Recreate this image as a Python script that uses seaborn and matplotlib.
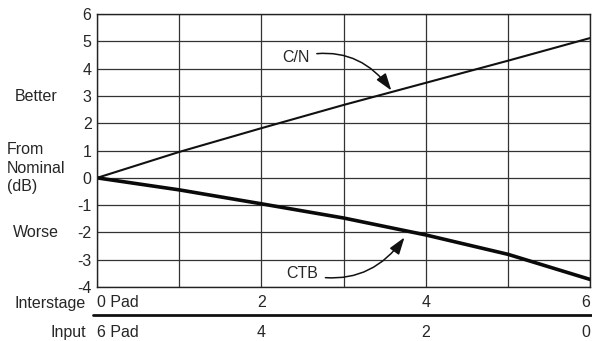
import numpy as np
import pandas as pd
import matplotlib
matplotlib.use('Agg')
import matplotlib.pyplot as plt
import seaborn as sns
from matplotlib.transforms import blended_transform_factory

# values
interstage_pad = [0, 1, 2, 3, 4, 5, 6]
cn_db = [0, 0.95, 1.82, 2.67, 3.48, 4.29, 5.12]
ctb_db = [0, -0.44, -0.95, -1.47, -2.09, -2.80, -3.72]

interstage_ticks = [0, 2, 4, 6]
interstage_labels = ['0 Pad', '2', '4', '6']
input_labels = ['6 Pad', '4', '2', '0']
y_ticks = [6, 5, 4, 3, 2, 1, 0, -1, -2, -3, -4]

df = pd.DataFrame({'pad': interstage_pad, 'C/N': cn_db, 'CTB': ctb_db})

sns.set_style('white')
plt.rcParams['font.family'] = ['Liberation Sans', 'DejaVu Sans']
fs = 11.5

fig = plt.figure(figsize=(5.92, 3.41), dpi=100)
ax = fig.add_axes([0.164, 0.158, 0.833, 0.801])

sns.lineplot(data=df, x='pad', y='C/N', ax=ax, color='#111111', linewidth=1.5)
sns.lineplot(data=df, x='pad', y='CTB', ax=ax, color='#0a0a0a', linewidth=2.6)

ax.set_xlim(0, 6)
ax.set_ylim(-4, 6)
ax.set_xticks(interstage_pad, minor=True)
ax.set_xticks(interstage_ticks)
ax.set_xticklabels(interstage_labels, fontsize=fs)
ax.get_xticklabels()[0].set_ha('left')
ax.get_xticklabels()[-1].set_ha('right')
ax.set_yticks(y_ticks)
ax.set_yticklabels([str(v) for v in y_ticks], fontsize=fs)
ax.tick_params(axis='both', which='both', length=0)
ax.tick_params(axis='x', pad=6)
ax.tick_params(axis='y', pad=4)
ax.grid(True, which='both', color='#333333', linewidth=0.9)
ax.set_axisbelow(True)
for s in ax.spines.values():
    s.set_color('#222222')
    s.set_linewidth(1.0)
ax.set_xlabel('')
ax.set_ylabel('')

# left side labels
fig.text(0.025, 0.716, 'Better', fontsize=fs, ha='left', va='center')
fig.text(0.012, 0.507, 'From\nNominal\n(dB)', fontsize=fs, ha='left', va='center',
         linespacing=1.3)
fig.text(0.022, 0.317, 'Worse', fontsize=fs, ha='left', va='center')

# bottom scales
trans = blended_transform_factory(ax.transData, fig.transFigure)
fig.text(0.145, 0.11, 'Interstage', fontsize=fs, ha='right', va='center')
fig.add_artist(plt.Line2D([0.157, 1.0], [0.076, 0.076], color='#111111',
                          linewidth=2.0, transform=fig.transFigure))
fig.text(0.145, 0.026, 'Input', fontsize=fs, ha='right', va='center')
for x, lab in zip(interstage_ticks, input_labels):
    ha = 'left' if x == 0 else ('right' if x == 6 else 'center')
    ax.text(x, 0.026, lab, fontsize=fs, ha=ha, va='center', transform=trans)

# curve labels with arrows
ax.annotate('C/N', xy=(3.58, 3.2), xytext=(2.25, 4.4), fontsize=fs,
            ha='left', va='center',
            arrowprops=dict(arrowstyle='-|>,head_length=0.9,head_width=0.3',
                            connectionstyle='arc3,rad=-0.35', color='#111111',
                            linewidth=1.1, shrinkA=3, shrinkB=0))
ax.annotate('CTB', xy=(3.74, -2.18), xytext=(2.3, -3.5), fontsize=fs,
            ha='left', va='center',
            arrowprops=dict(arrowstyle='-|>,head_length=0.9,head_width=0.3',
                            connectionstyle='arc3,rad=0.35', color='#111111',
                            linewidth=1.1, shrinkA=3, shrinkB=0))

plt.savefig('out.png', dpi=100)
